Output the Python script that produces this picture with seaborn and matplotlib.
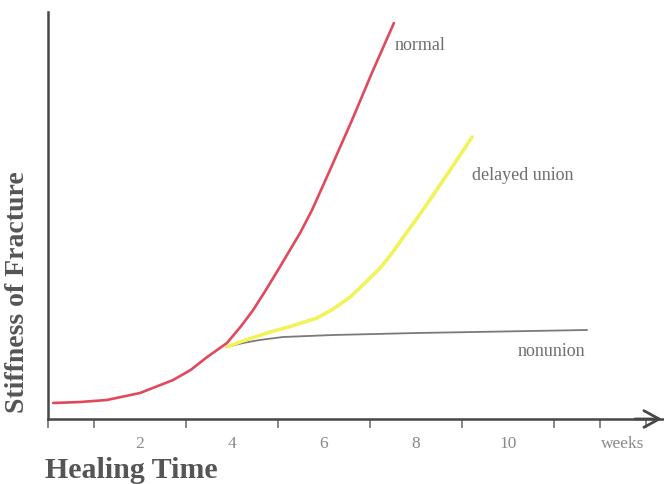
import matplotlib.pyplot as plt
import numpy as np
import seaborn as sns

# values (weeks, stiffness in arbitrary units)
normal_weeks = [0.11, 0.7, 1.28, 2.0, 2.72, 3.1, 3.46, 3.89, 4.2, 4.46, 4.75, 5.04, 5.48, 5.74, 6.13, 6.61, 7.05, 7.52]
normal_stiff = [1.6, 1.7, 1.9, 2.6, 3.9, 4.9, 6.2, 7.6, 9.3, 10.9, 13.0, 15.2, 18.6, 20.9, 24.9, 29.9, 34.7, 39.6]

delayed_weeks = [3.89, 4.17, 4.76, 5.3, 5.85, 6.2, 6.57, 6.89, 7.22, 7.45, 7.65, 8.15, 8.67, 9.22]
delayed_stiff = [7.2, 7.7, 8.6, 9.3, 10.1, 11.0, 12.2, 13.6, 15.1, 16.4, 17.7, 20.9, 24.4, 28.2]

nonunion_weeks = [3.89, 4.24, 4.6, 5.11, 6.2, 8.02, 11.72]
nonunion_stiff = [7.2, 7.6, 7.9, 8.2, 8.4, 8.6, 8.9]

tick_weeks = list(range(0, 14))
label_weeks = [2, 4, 6, 8, 10]


def init_setup():
    sns.set_theme(style="white")
    plt.rcParams['font.family'] = ['Liberation Serif', 'DejaVu Serif']


init_setup()

fig = plt.figure(figsize=(6.64, 4.84), dpi=100)
ax = fig.add_axes([48 / 664, 65 / 484, 615 / 664, 407 / 484])

sns.lineplot(x=nonunion_weeks, y=nonunion_stiff, ax=ax, color='#7a7a7a', lw=1.3, sort=False)
sns.lineplot(x=delayed_weeks, y=delayed_stiff, ax=ax, color='#f2f25a', lw=2.6, sort=False)
sns.lineplot(x=normal_weeks, y=normal_stiff, ax=ax, color='#e2485c', lw=1.9, sort=False)

ax.set_xlim(0, 615 / 46)
ax.set_ylim(0, 40.7)

# axes: only left and bottom, dark grey
for side in ['top', 'right']:
    ax.spines[side].set_visible(False)
for side in ['left', 'bottom']:
    ax.spines[side].set_color('#474747')
    ax.spines[side].set_linewidth(1.8)

ax.set_yticks([])
ax.set_xticks(tick_weeks, minor=True)
ax.set_xticks(label_weeks + [12.5])
ax.set_xticklabels([str(w) for w in label_weeks] + ['weeks'])
ax.tick_params(axis='x', which='minor', direction='out', length=6.5, width=1.1,
               color='#666666', bottom=True)
ax.tick_params(axis='x', which='major', length=0, pad=12, labelsize=12.5,
               labelcolor='#8a8a8a')

# arrow head at the end of the time axis
ax.annotate('', xy=(1.003, 0), xycoords='axes fraction', xytext=(0.95, 0),
            arrowprops=dict(arrowstyle='->,head_length=0.55,head_width=0.3',
                            color='#474747', lw=2.0, mutation_scale=20),
            annotation_clip=False)

# curve labels
ax.text(7.54, 37.4, 'normal', ha='left', va='center', fontsize=13, color='#6e6e6e')
ax.text(9.22, 24.4, 'delayed union', ha='left', va='center', fontsize=13, color='#6e6e6e')
ax.text(10.2, 6.8, 'nonunion', ha='left', va='center', fontsize=13, color='#6e6e6e')

fig.text(18 / 664, 1 - 292 / 484, 'Stiffness of Fracture', rotation=90,
         ha='center', va='center', fontsize=20, fontweight='bold', color='#555555')
fig.text(45 / 664, 1 - 470 / 484, 'Healing Time', ha='left', va='center',
         fontsize=21.5, fontweight='bold', color='#555555')

fig.savefig('out.png', dpi=100)
